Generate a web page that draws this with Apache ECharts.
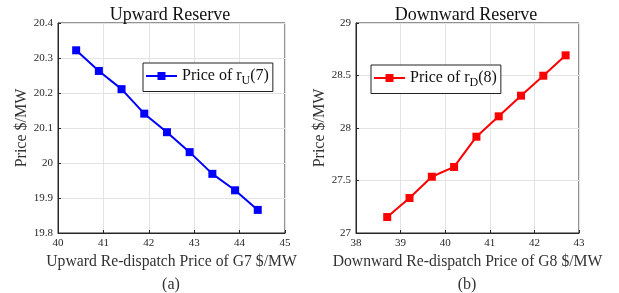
<!DOCTYPE html>
<html>
<head>
<meta charset="utf-8">
<script src="https://cdn.jsdelivr.net/npm/echarts@6/dist/echarts.min.js"></script>
<style>
  html, body { margin: 0; padding: 0; background: #fff; }
  #chart { width: 619px; height: 293px; }
</style>
</head>
<body>
<div id="chart"></div>
<script>
// left panel: upward reserve
const upX = [40.4, 40.9, 41.4, 41.9, 42.4, 42.9, 43.4, 43.9, 44.4]
const upPrice = [20.322, 20.263, 20.211, 20.141, 20.088, 20.031, 19.969, 19.922, 19.866]
// right panel: downward reserve
const downX = [38.7, 39.2, 39.7, 40.2, 40.7, 41.2, 41.7, 42.2, 42.7]
const downPrice = [27.152, 27.333, 27.536, 27.629, 27.917, 28.111, 28.308, 28.498, 28.692]

const serif = '"Liberation Serif", "DejaVu Serif", serif'
const tickColor = '#262626'

function pairs(xs, ys) {
    return xs.map((x, i) => [x, ys[i]])
}

function xAxisCfg(idx, min, max, name) {
    return {
        type: 'value', gridIndex: idx, min: min, max: max, interval: 1,
        name: name, nameLocation: 'middle', nameGap: 21,
        nameTextStyle: { fontFamily: serif, fontSize: 15.7, color: '#333' },
        axisLine: { show: true, onZero: false, lineStyle: { color: tickColor, width: 1 } },
        axisTick: { show: true, inside: true, length: 3, lineStyle: { color: tickColor } },
        axisLabel: { fontFamily: serif, fontSize: 11, color: tickColor, margin: 5 },
        splitLine: { show: true, lineStyle: { color: '#e3e3e3', width: 1 } }
    }
}

function yAxisCfg(idx, min, max, interval, name) {
    return {
        type: 'value', gridIndex: idx, min: min, max: max, interval: interval,
        name: name, nameLocation: 'middle', nameGap: 26,
        nameTextStyle: { fontFamily: serif, fontSize: 16, color: '#333' },
        axisLine: { show: true, onZero: false, lineStyle: { color: tickColor, width: 1 } },
        axisTick: { show: true, inside: true, length: 3, lineStyle: { color: tickColor } },
        axisLabel: { fontFamily: serif, fontSize: 11, color: tickColor, margin: 5 },
        splitLine: { show: true, lineStyle: { color: '#e3e3e3', width: 1 } }
    }
}

const legendRich = {
    a: { fontFamily: serif, fontSize: 16, color: '#111' },
    s: { fontFamily: serif, fontSize: 12, color: '#111', padding: [9, 0, 0, 0] }
}

const chart = echarts.init(document.getElementById('chart'))
chart.setOption({
    backgroundColor: '#fff',
    animation: false,
    title: [
        { text: 'Upward Reserve', left: 165, top: 1, textAlign: 'center',
          textStyle: { fontFamily: serif, fontSize: 18, fontWeight: 'normal', color: '#111' } },
        { text: 'Downward Reserve', left: 461, top: 1, textAlign: 'center',
          textStyle: { fontFamily: serif, fontSize: 18, fontWeight: 'normal', color: '#111' } },
        { text: '(a)', left: 166, top: 272, textAlign: 'center',
          textStyle: { fontFamily: serif, fontSize: 16, fontWeight: 'normal', color: '#333' } },
        { text: '(b)', left: 462, top: 272, textAlign: 'center',
          textStyle: { fontFamily: serif, fontSize: 16, fontWeight: 'normal', color: '#333' } }
    ],
    grid: [
        { left: 58, top: 23, width: 227, height: 210, show: true, borderColor: tickColor, borderWidth: 1 },
        { left: 356, top: 23, width: 223, height: 210, show: true, borderColor: tickColor, borderWidth: 1 }
    ],
    xAxis: [
        xAxisCfg(0, 40, 45, 'Upward Re-dispatch Price of G7 $/MW'),
        xAxisCfg(1, 38, 43, 'Downward Re-dispatch Price of G8 $/MW')
    ],
    yAxis: [
        yAxisCfg(0, 19.8, 20.4, 0.1, 'Price $/MW'),
        yAxisCfg(1, 27, 29, 0.5, 'Price $/MW')
    ],
    legend: [
        { data: ['up'], left: 143, top: 63, orient: 'vertical',
          itemWidth: 31, itemHeight: 10, itemGap: 0,
          padding: [5, 4, 5, 2], borderColor: '#222', borderWidth: 1, backgroundColor: '#fff',
          formatter: () => '{a|Price of r}{s|U}{a|(7)}',
          textStyle: { rich: legendRich } },
        { data: ['down'], left: 371, top: 65, orient: 'vertical',
          itemWidth: 31, itemHeight: 10, itemGap: 0,
          padding: [5, 4, 5, 2], borderColor: '#222', borderWidth: 1, backgroundColor: '#fff',
          formatter: () => '{a|Price of r}{s|D}{a|(8)}',
          textStyle: { rich: legendRich } }
    ],
    series: [
        { name: 'up', type: 'line', xAxisIndex: 0, yAxisIndex: 0,
          data: pairs(upX, upPrice), symbol: 'rect', symbolSize: 8,
          lineStyle: { color: '#0000ff', width: 2 }, itemStyle: { color: '#0000ff' } },
        { name: 'down', type: 'line', xAxisIndex: 1, yAxisIndex: 1,
          data: pairs(downX, downPrice), symbol: 'rect', symbolSize: 8,
          lineStyle: { color: '#ff0000', width: 2 }, itemStyle: { color: '#ff0000' } }
    ]
})
</script>
</body>
</html>
